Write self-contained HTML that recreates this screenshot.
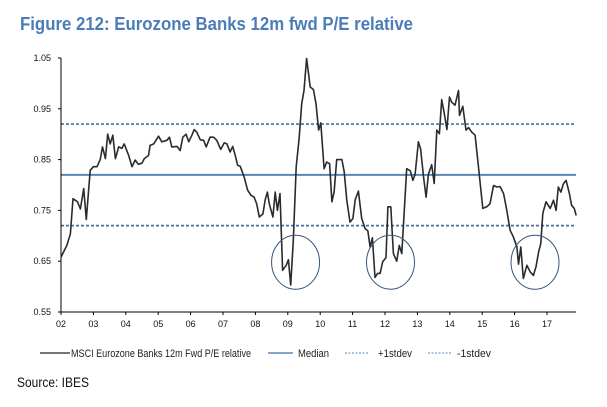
<!DOCTYPE html>
<html><head><meta charset="utf-8"><style>
body{margin:0;background:#fff;width:607px;height:402px;overflow:hidden;font-family:"Liberation Sans",Arial,sans-serif}
</style></head><body>
<svg id="chart" width="607" height="402" xmlns="http://www.w3.org/2000/svg" font-family="Liberation Sans, Arial, sans-serif">
<text x="20" y="30" font-size="18" font-weight="bold" fill="#4a7db8" textLength="393" lengthAdjust="spacingAndGlyphs">Figure 212: Eurozone Banks 12m fwd P/E relative</text>
<g id="grid"></g><g id="axes"></g><g id="series"></g>
<g font-size="11" fill="#222">
<line x1="40" y1="353" x2="70" y2="353" stroke="#222" stroke-width="1.3"/>
<text x="71" y="357" textLength="180" lengthAdjust="spacingAndGlyphs">MSCI Eurozone Banks 12m Fwd P/E relative</text>
<line x1="268" y1="353" x2="293" y2="353" stroke="#5b87b5" stroke-width="1.5"/>
<text x="298" y="357" textLength="31" lengthAdjust="spacingAndGlyphs">Median</text>
<line x1="345" y1="353" x2="369" y2="353" stroke="#5b87b5" stroke-width="1" stroke-dasharray="2,1.5"/>
<text x="378" y="357" textLength="34" lengthAdjust="spacingAndGlyphs">+1stdev</text>
<line x1="428" y1="353" x2="452" y2="353" stroke="#5b87b5" stroke-width="1" stroke-dasharray="2,1.5"/>
<text x="457" y="357" textLength="34" lengthAdjust="spacingAndGlyphs">-1stdev</text>
</g>
<text x="17" y="387" font-size="14" fill="#111" textLength="72" lengthAdjust="spacingAndGlyphs">Source: IBES</text>
</svg>
<script>
const xLabels=["02","03","04","05","06","07","08","09","10","11","12","13","14","15","16","17"];
const yTicks=[0.55,0.65,0.75,0.85,0.95,1.05];
const median=0.82, plusStd=0.92, minusStd=0.72;
const circleCenters=[[7.24,0.648],[10.17,0.648],[14.63,0.648]];
const years=[0,0.18,0.29,0.37,0.51,0.6,0.7,0.78,0.9,1.0,1.11,1.21,1.28,1.37,1.44,1.52,1.6,1.68,1.78,1.88,1.95,2.09,2.19,2.29,2.39,2.5,2.57,2.7,2.75,2.86,3.01,3.11,3.27,3.35,3.42,3.58,3.68,3.76,3.86,3.94,4.04,4.11,4.19,4.3,4.4,4.48,4.6,4.71,4.81,4.93,5.04,5.12,5.22,5.3,5.38,5.45,5.53,5.65,5.76,5.86,5.96,6.04,6.12,6.23,6.3,6.37,6.43,6.54,6.61,6.68,6.76,6.84,6.95,7.02,7.09,7.17,7.26,7.35,7.43,7.5,7.58,7.69,7.79,7.87,7.95,8.02,8.12,8.2,8.29,8.36,8.43,8.51,8.67,8.74,8.82,8.92,9.01,9.08,9.18,9.28,9.39,9.47,9.54,9.61,9.69,9.77,9.85,9.93,10.03,10.09,10.18,10.26,10.36,10.44,10.52,10.67,10.78,10.86,10.93,11.03,11.1,11.19,11.27,11.34,11.44,11.52,11.6,11.68,11.75,11.82,11.91,11.99,12.06,12.16,12.27,12.3,12.4,12.5,12.58,12.68,12.78,12.88,13.02,13.14,13.24,13.35,13.45,13.55,13.66,13.76,13.86,13.96,14.07,14.12,14.19,14.27,14.38,14.48,14.58,14.66,14.74,14.81,14.87,14.97,15.1,15.2,15.28,15.35,15.43,15.51,15.59,15.69,15.76,15.84,15.9];
const values=[0.658,0.681,0.704,0.773,0.767,0.753,0.793,0.732,0.829,0.836,0.836,0.85,0.875,0.852,0.9,0.881,0.898,0.852,0.875,0.872,0.881,0.858,0.836,0.849,0.841,0.843,0.852,0.858,0.878,0.881,0.896,0.885,0.888,0.894,0.875,0.876,0.868,0.894,0.9,0.885,0.898,0.909,0.904,0.889,0.888,0.875,0.894,0.894,0.888,0.87,0.883,0.881,0.865,0.876,0.858,0.839,0.837,0.816,0.79,0.78,0.776,0.763,0.737,0.743,0.77,0.786,0.763,0.737,0.786,0.75,0.783,0.632,0.642,0.653,0.603,0.691,0.836,0.891,0.96,0.986,1.049,0.993,0.988,0.96,0.908,0.922,0.832,0.845,0.842,0.767,0.786,0.85,0.85,0.826,0.77,0.727,0.734,0.771,0.788,0.734,0.714,0.71,0.678,0.696,0.618,0.626,0.626,0.649,0.657,0.757,0.757,0.665,0.65,0.681,0.665,0.832,0.828,0.809,0.821,0.885,0.871,0.815,0.776,0.821,0.84,0.803,0.908,0.901,0.968,0.944,0.909,0.973,0.963,0.957,0.986,0.937,0.955,0.908,0.913,0.904,0.898,0.839,0.754,0.757,0.763,0.799,0.796,0.797,0.783,0.75,0.711,0.698,0.678,0.644,0.678,0.616,0.642,0.629,0.622,0.639,0.668,0.685,0.744,0.767,0.754,0.77,0.75,0.796,0.786,0.803,0.809,0.783,0.76,0.754,0.74];
const NS="http://www.w3.org/2000/svg";
const X0=61,PX=32.4,XEND=576,Y0=58,YS=508;
const xs=y=>X0+y*PX, ys=v=>Y0+(1.05-v)*YS;
function mk(tag,attrs,parent){const e=document.createElementNS(NS,tag);for(const k in attrs)e.setAttribute(k,attrs[k]);parent.appendChild(e);return e;}
const grid=document.getElementById('grid'),axes=document.getElementById('axes'),ser=document.getElementById('series');
let e;
e=mk('line',{x1:X0,y1:ys(median),x2:XEND,y2:ys(median),stroke:'#5b87b5','stroke-width':2},grid);


e=mk('line',{x1:X0,y1:ys(plusStd),x2:XEND,y2:ys(plusStd),stroke:'#4a72a0','stroke-width':1.7,'stroke-dasharray':'3,2'},grid);


e=mk('line',{x1:X0,y1:ys(minusStd),x2:XEND,y2:ys(minusStd),stroke:'#4a72a0','stroke-width':1.7,'stroke-dasharray':'3,2'},grid);


e=mk('line',{x1:X0,y1:Y0,x2:X0,y2:ys(0.55),stroke:'#000','stroke-width':1},axes);


e=mk('line',{x1:X0,y1:ys(0.55),x2:XEND,y2:ys(0.55),stroke:'#000','stroke-width':1},axes);


yTicks.forEach(t=>{
  mk('line',{x1:X0-3,y1:ys(t),x2:X0,y2:ys(t),stroke:'#000'},axes);
  e=mk('text',{x:X0-10,y:ys(t)+3,'font-size':9,'text-anchor':'end',fill:'#111'},axes);
  e.textContent=t.toFixed(2);
  
  
});
xLabels.forEach((l,i)=>{
  mk('line',{x1:xs(i),y1:ys(0.55),x2:xs(i),y2:ys(0.55)+3,stroke:'#000'},axes);
  e=mk('text',{x:xs(i),y:ys(0.55)+15,'font-size':9,'text-anchor':'middle',fill:'#111'},axes);
  e.textContent=l;
  
  
});
let d=years.map((y,i)=>(i?'L':'M')+xs(y).toFixed(1)+','+ys(values[i]).toFixed(1)).join('');
e=mk('path',{d:d,fill:'none',stroke:'#2b2b2b','stroke-width':1.6,'stroke-linejoin':'round'},ser);


circleCenters.forEach(c=>{
  e=mk('ellipse',{cx:xs(c[0]),cy:ys(c[1]),rx:24,ry:27,fill:'none',stroke:'#3a5578','stroke-width':1},ser);
  
  
});
</script>
</body></html>
